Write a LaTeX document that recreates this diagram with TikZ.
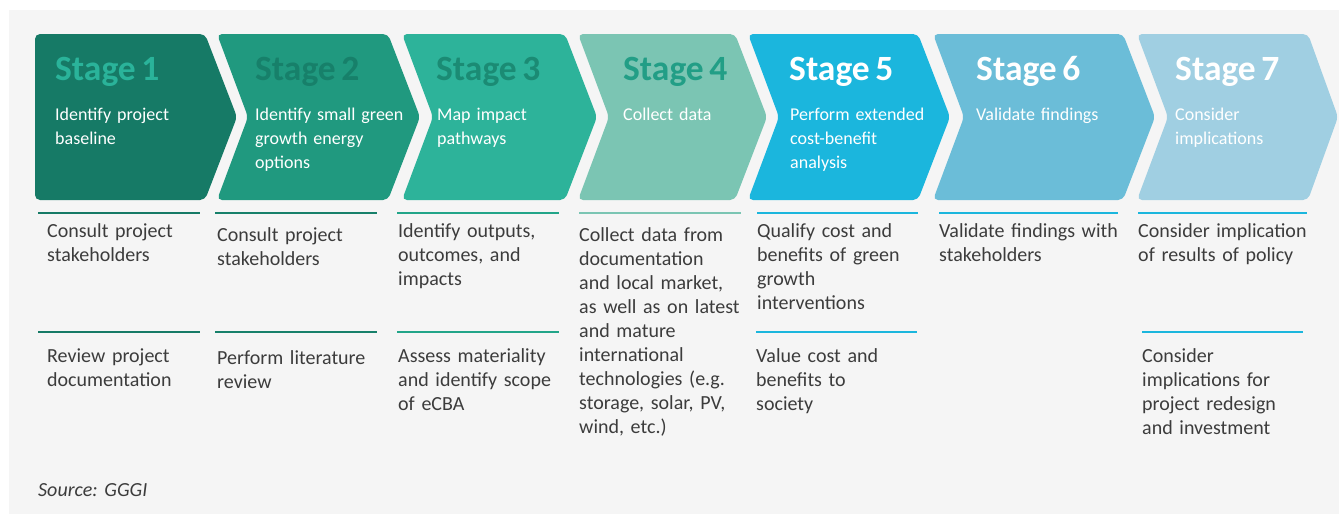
\documentclass[tikz,border=0pt]{standalone}
\usepackage{fontspec}
\setmainfont[WordSpace=0.7]{Carlito}
\frenchspacing
\definecolor{bgc}{HTML}{F5F5F5}
\definecolor{fa}{HTML}{167A66}\definecolor{ta}{HTML}{2AB39A}
\definecolor{fb}{HTML}{20997F}\definecolor{tb}{HTML}{17806A}
\definecolor{fc}{HTML}{2DB39A}\definecolor{tc}{HTML}{1B8B74}
\definecolor{fd}{HTML}{7BC5B3}\definecolor{td}{HTML}{229E86}
\definecolor{fe}{HTML}{1BB6DD}
\definecolor{ff}{HTML}{6BBDD8}
\definecolor{fg}{HTML}{A0CFE2}
\definecolor{ra}{HTML}{167A66}\definecolor{rb}{HTML}{17806A}
\definecolor{rc}{HTML}{22A589}\definecolor{rd}{HTML}{7BC5B3}
\definecolor{re}{HTML}{1BB6DD}
\definecolor{txt}{HTML}{3C3C3C}
\tikzset{
  chev/.style={rounded corners=5pt},
  ttl/.style={anchor=base west, inner sep=0pt, font=\fontsize{35.5}{40}\selectfont\bfseries},
  sub/.style={anchor=base west, inner sep=0pt, text width=175pt, align=left, text=white, font=\fontsize{18}{24}\selectfont},
  low/.style={anchor=base west, inner sep=0pt, text width=180pt, align=left, text=txt, font=\fontsize{20}{24}\selectfont},
  rule/.style={line width=2pt},
}
\begin{document}
\begin{tikzpicture}[x=1pt,y=-1pt]
\useasboundingbox (0,0) rectangle (1339,514);
\fill[bgc] (9,10) rectangle (1339,514);
% chevrons
\fill[fa,chev] (35,34) -- (205,34) -- (237,117) -- (205,200) -- (35,200) -- cycle;
\fill[fb,chev] (217,34) -- (388,34) -- (420,117) -- (388,200) -- (217,200) -- (248,117) -- cycle;
\fill[fc,chev] (402,34) -- (565,34) -- (597,117) -- (565,200) -- (402,200) -- (433,117) -- cycle;
\fill[fd,chev] (578,34) -- (735,34) -- (767,117) -- (735,200) -- (578,200) -- (609,117) -- cycle;
\fill[fe,chev] (748,34) -- (918,34) -- (950,117) -- (918,200) -- (748,200) -- (779,117) -- cycle;
\fill[ff,chev] (933,34) -- (1123,34) -- (1155,117) -- (1123,200) -- (933,200) -- (964,117) -- cycle;
\fill[fg,chev] (1137,34) -- (1308,34) -- (1338,117) -- (1308,200) -- (1137,200) -- (1168,117) -- cycle;
% titles
\node[ttl,text=ta] (t1) at (55,80) {Stage 1};
\node[ttl,text=tb] (t2) at (255,80) {Stage 2};
\node[ttl,text=tc] (t3) at (436,80) {Stage 3};
\node[ttl,text=td] (t4) at (623,80) {Stage 4};
\node[ttl,text=white] (t5) at (789,80) {Stage 5};
\node[ttl,text=white] (t6) at (976,80) {Stage 6};
\node[ttl,text=white] (t7) at (1175,80) {Stage 7};
% subtitles
\node[sub] (s1) at (55,120) {Identify project\\baseline};
\node[sub] (s2) at (255,120) {Identify small green\\growth energy\\options};
\node[sub] (s3) at (437,120) {Map impact\\pathways};
\node[sub] (s4) at (623,120) {Collect data};
\node[sub] (s5) at (790,120) {Perform extended\\cost-benefit\\analysis};
\node[sub] (s6) at (976,120) {Validate findings};
\node[sub] (s7) at (1175,120) {Consider\\implications};
% rules
\draw[rule,ra] (38,213) -- (200,213);
\draw[rule,rb] (215,213) -- (377,213);
\draw[rule,rc] (397,213) -- (559,213);
\draw[rule,rd] (579,213) -- (741,213);
\draw[rule,re] (757,213) -- (918,213);
\draw[rule,re] (939,213) -- (1118,213);
\draw[rule,re] (1138,213) -- (1307,213);
\draw[rule,ra] (38,332) -- (200,332);
\draw[rule,rb] (215,332) -- (377,332);
\draw[rule,rc] (397,332) -- (559,332);
\draw[rule,re] (756,332) -- (917,332);
\draw[rule,re] (1142,332) -- (1303,332);
% lower texts
\node[low] (a1) at (47,237) {Consult project\\stakeholders};
\node[low] (b1) at (47,362) {Review project\\documentation};
\node[low] (a2) at (217,241) {Consult project\\stakeholders};
\node[low] (b2) at (217,364) {Perform literature\\review};
\node[low] (a3) at (398,237) {Identify outputs,\\outcomes, and\\impacts};
\node[low] (b3) at (398,362) {Assess materiality\\and identify scope\\of eCBA};
\node[low] (a4) at (579,241) {Collect data from\\documentation\\and local market,\\as well as on latest\\and mature\\international\\technologies (e.g.\\storage, solar, PV,\\wind, etc.)};
\node[low] (a5) at (757,237) {Qualify cost and\\benefits of green\\growth\\interventions};
\node[low] (b5) at (756,362) {Value cost and\\benefits to\\society};
\node[low] (a6) at (939,237) {Validate findings with\\stakeholders};
\node[low] (a7) at (1138,237) {Consider implication\\of results of policy};
\node[low] (b7) at (1142,362) {Consider\\implications for\\project redesign\\and investment};
\node[low,font=\fontsize{20}{24}\selectfont\itshape] (src) at (38,496) {Source: GGGI};
\end{tikzpicture}
\end{document}
